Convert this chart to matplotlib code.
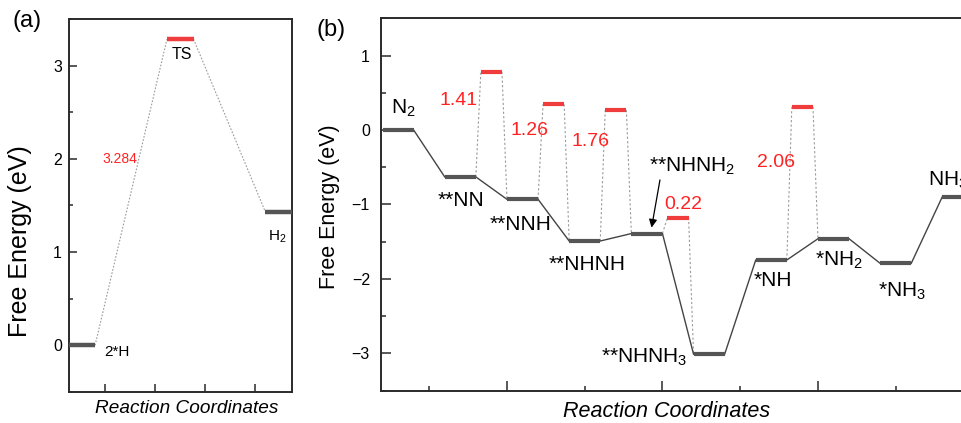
import matplotlib
matplotlib.use('Agg')
import matplotlib.pyplot as plt
import numpy as np
from matplotlib.ticker import FixedLocator, NullFormatter, MultipleLocator

plt.rcParams['font.family'] = ['Liberation Sans', 'DejaVu Sans']
plt.rcParams['mathtext.fontset'] = 'custom'
plt.rcParams['mathtext.rm'] = 'Liberation Sans'
plt.rcParams['mathtext.it'] = 'Liberation Sans:italic'

# ---------------- data ----------------
# panel (a): H2 formation
a_states = ['2*H', 'TS', r'H$_\mathregular{2}$']
a_energy = [0.0, 3.284, 1.43]
a_barrier_label = '3.284'

# panel (b): N2 reduction pathway
b_states = [r'N$_\mathregular{2}$', '**NN', '**NNH', '**NHNH',
            r'**NHNH$_\mathregular{2}$', r'**NHNH$_\mathregular{3}$',
            '*NH', r'*NH$_\mathregular{2}$', r'*NH$_\mathregular{3}$',
            r'NH$_\mathregular{3}$']
b_energy = [0.0, -0.63, -0.93, -1.49, -1.39, -3.01, -1.745, -1.46, -1.79, -0.895]
b_ts_step = [1, 2, 3, 4, 6]          # TS lies between step i and i+1
b_ts_energy = [0.783, 0.345, 0.268, -1.175, 0.313]
b_barrier_labels = ['1.41', '1.26', '1.76', '0.22', '2.06']

a_yticks = [0, 1, 2, 3]
b_yticks = [-3, -2, -1, 0, 1]

# ---------------- style ----------------
LEVEL = '#555555'
RED = '#f03c3c'
RED_TXT = '#ff2222'
DASH = '#9a9a9a'
SPINE = '#2a2a2a'

fig = plt.figure(figsize=(9.62, 4.23), dpi=100)

# ================= panel (a) =================
axA = fig.add_axes([69/962, 1-392/423, 223/962, 373/423])
half_a = 0.135
ca = np.arange(len(a_energy)) * 1.0
for i, (c, e) in enumerate(zip(ca, a_energy)):
    axA.plot([c-half_a, c+half_a], [e, e], color=RED if i == 1 else LEVEL,
             lw=3.2, solid_capstyle='butt', zorder=3)
for i in range(len(a_energy)-1):
    axA.plot([ca[i]+half_a, ca[i+1]-half_a], [a_energy[i], a_energy[i+1]],
             color=DASH, lw=0.8, ls=(0, (1.5, 1.5)), zorder=2)

axA.text(0.36, -0.07, a_states[0], ha='center', va='center', fontsize=11)
axA.text(1.02, 3.115, a_states[1], ha='center', va='center', fontsize=11.5)
axA.text(1.99, 1.16, a_states[2], ha='center', va='center', fontsize=11)
axA.text(0.39, 2.0, a_barrier_label, ha='center', va='center', fontsize=10, color=RED_TXT)

axA.set_xlim(-0.13, 2.135)
axA.set_ylim(-0.5, 3.5)
axA.set_yticks(a_yticks)
axA.yaxis.set_minor_locator(MultipleLocator(0.5))
axA.xaxis.set_major_locator(FixedLocator([0.2365, 0.744, 1.2538, 1.761]))
axA.xaxis.set_major_formatter(NullFormatter())
axA.tick_params(axis='both', which='major', direction='in', length=5.5, width=1.1,
                color=SPINE, labelsize=11.5, pad=5)
axA.tick_params(axis='both', which='minor', direction='in', length=3, width=1.1, color=SPINE)
axA.tick_params(axis='x', which='major', length=5.5)
for s in axA.spines.values():
    s.set_linewidth(1.4)
    s.set_color(SPINE)
axA.set_ylabel('Free Energy (eV)', fontsize=18)
axA.yaxis.label.set_va('center')
axA.yaxis.set_label_coords(-0.22, 0.405)
axA.set_xlabel('Reaction Coordinates', fontsize=13.7, style='italic')
axA.xaxis.label.set_va('center')
axA.xaxis.set_label_coords(0.528, -0.045)
fig.text(13/962, 1-21/423, '(a)', fontsize=17, ha='left', va='center')

# ================= panel (b) =================
axB = fig.add_axes([381/962, 1-390.7/423, 608/962, 372.4/423])
xl = np.arange(len(b_energy)) * 2.0
for x, e in zip(xl, b_energy):
    axB.plot([x, x+1], [e, e], color=LEVEL, lw=3.0, solid_capstyle='butt', zorder=3)
for i in range(len(b_energy)-1):
    axB.plot([xl[i]+1, xl[i+1]], [b_energy[i], b_energy[i+1]], color='#444444',
             lw=1.0, zorder=2)
ins = 0.16
for k, te in zip(b_ts_step, b_ts_energy):
    x0 = xl[k] + 1
    axB.plot([x0+ins, x0+1-ins], [te, te], color=RED, lw=3.0, solid_capstyle='butt', zorder=3)
    axB.plot([x0, x0+ins], [b_energy[k], te], color=DASH, lw=0.8, ls=(0, (2, 2)), zorder=1)
    axB.plot([x0+1-ins, x0+1], [te, b_energy[k+1]], color=DASH, lw=0.8, ls=(0, (2, 2)), zorder=1)

lab_pos = [(0.67, 0.29, 'center'), (2.53, -0.946, 'center'), (4.43, -1.275, 'center'),
           (6.57, -1.805, 'center'), (9.96, -0.483, 'center'), (8.42, -3.05, 'center'),
           (12.55, -2.02, 'center'), (14.67, -1.745, 'center'), (16.71, -2.17, 'center'),
           (17.53, -0.67, 'left')]
for (x, y, ha), s in zip(lab_pos, b_states):
    axB.text(x, y, s, ha=ha, va='center', fontsize=15)
bar_pos = [(2.45, 0.40), (4.74, 0.0), (6.70, -0.16), (9.66, -1.0), (12.65, -0.44)]
for (x, y), s in zip(bar_pos, b_barrier_labels):
    axB.text(x, y, s, ha='center', va='center', fontsize=14, color=RED_TXT)
axB.annotate('', xy=(8.65, -1.31), xytext=(8.92, -0.67),
             arrowprops=dict(arrowstyle='-|>', color='black', lw=0.9,
                             mutation_scale=12, shrinkA=0, shrinkB=0))

axB.set_xlim(-0.05, 19.5)
axB.set_ylim(-3.5, 1.5)
axB.set_yticks(b_yticks)
axB.yaxis.set_minor_locator(MultipleLocator(0.5))
axB.xaxis.set_major_locator(FixedLocator([4, 9, 14, 19]))
axB.xaxis.set_minor_locator(FixedLocator([1.5, 6.5, 11.5, 16.5]))
axB.xaxis.set_major_formatter(NullFormatter())
axB.tick_params(axis='both', which='major', direction='in', length=7, width=1.1,
                color=SPINE, labelsize=11.5, pad=8)
axB.tick_params(axis='both', which='minor', direction='in', length=3.5, width=1.1, color=SPINE)
for s in axB.spines.values():
    s.set_linewidth(1.4)
    s.set_color(SPINE)
axB.set_ylabel('Free Energy (eV)', fontsize=15.5)
axB.yaxis.label.set_va('center')
axB.yaxis.set_label_coords(-0.084, 0.495)
axB.set_xlabel('Reaction Coordinates', fontsize=15.5, style='italic')
axB.xaxis.label.set_va('center')
axB.xaxis.set_label_coords((666.5-381)/608, -(411-390.7)/372.4)
fig.text(317/962, 1-30/423, '(b)', fontsize=17, ha='left', va='center')

fig.savefig('out.png', dpi=100)
